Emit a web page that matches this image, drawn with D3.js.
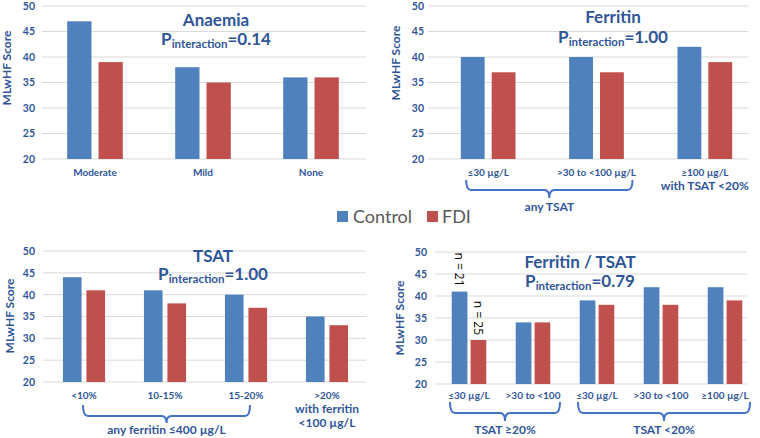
<!DOCTYPE html>
<html><head><meta charset="utf-8">
<script src="https://cdn.jsdelivr.net/npm/d3@7/dist/d3.min.js"></script>
<style>
body{margin:0;background:#fff;}
svg{font-family:Lato,"Open Sans",sans-serif;}
</style></head>
<body><svg id="c" width="760" height="438"></svg>
<script>
// ---- data ----
const seriesNames = ["Control", "FDI"];
const yTicks = [20, 25, 30, 35, 40, 45, 50];

const anaemiaCats = ["Moderate", "Mild", "None"];
const anaemiaControl = [47, 38, 36];
const anaemiaFDI = [39, 35, 36];

const ferritinCats = [["≤30 µg/L"], [">30 to <100 µg/L"], ["≥100 µg/L", "with TSAT <20%"]];
const ferritinControl = [40, 40, 42];
const ferritinFDI = [37, 37, 39];

const tsatCats = [["<10%"], ["10-15%"], ["15-20%"], [">20%", "with ferritin", "<100 µg/L"]];
const tsatControl = [44, 41, 40, 35];
const tsatFDI = [41, 38, 37, 33];

const ftCats = [["≤30 µg/L"], [">30 to <100"], ["≤30 µg/L"], [">30 to <100"], ["≥100 µg/L"]];
const ftControl = [41, 34, 39, 42, 42];
const ftFDI = [30, 34, 38, 38, 39];
const ftN = [["n = 21", "n = 25"]];

const BLUE = "#4F81BD", RED = "#C0504D", TXT = "#2F5597", BR = "#4472C4";
const svg = d3.select("#c");

function panel(o) {
  const g = svg.append("g");
  const y = d3.scaleLinear().domain([20, 50]).range([o.yBot, o.yTop]);
  const cats = o.cats.map((c, i) => i);
  const x = d3.scaleBand().domain(cats).range(o.xr).padding(0);
  g.selectAll(".grid").data(yTicks).join("line")
    .attr("x1", o.gx[0]).attr("x2", o.gx[1])
    .attr("y1", d => y(d)).attr("y2", d => y(d))
    .attr("stroke", "#d9d9d9").attr("stroke-width", 1);
  const ax = g.append("g").attr("transform", `translate(${o.gx[0]},0)`)
    .call(d3.axisLeft(y).tickValues(yTicks).tickSize(0).tickPadding(o.tickPad));
  ax.select(".domain").remove();
  ax.selectAll("text").attr("fill", TXT).attr("font-size", 10.5).attr("font-weight", "bold")
    .attr("font-family", "Lato");
  g.append("text").attr("transform", `translate(${o.ytx},${o.ytc}) rotate(-90)`)
    .attr("text-anchor", "middle").attr("dy", "0.35em").attr("fill", TXT)
    .attr("font-size", 12).attr("font-weight", "bold").text("MLwHF Score");
  const bw = x.bandwidth() * o.bwr, gap = x.bandwidth() * o.gapr;
  const sets = [o.c, o.f];
  const cols = [BLUE, RED];
  sets.forEach((vals, s) => {
    g.selectAll(".b" + s).data(vals).join("rect")
      .attr("x", (d, i) => x(i) + x.bandwidth() / 2 + (s === 0 ? -gap / 2 - bw : gap / 2))
      .attr("width", bw)
      .attr("y", d => y(d)).attr("height", d => y(20) - y(d))
      .attr("fill", cols[s]);
  });
  o.cats.forEach((lines, i) => {
    const L = Array.isArray(lines) ? lines : [lines];
    L.forEach((t, k) => {
      g.append("text").attr("x", x(i) + x.bandwidth() / 2)
        .attr("y", o.catY + k * o.lineH)
        .attr("text-anchor", "middle").attr("fill", TXT)
        .attr("font-size", k === 0 ? 10 : 12).attr("font-weight", "bold").text(t);
    });
  });
  g.append("text").attr("x", o.tx).attr("y", o.ty).attr("text-anchor", "middle")
    .attr("fill", TXT).attr("font-size", 17).attr("font-weight", "bold").text(o.title);
  const pt = g.append("text").attr("x", o.tx).attr("y", o.ty + o.pdy).attr("text-anchor", "middle")
    .attr("fill", TXT).attr("font-weight", "bold").attr("font-size", 17);
  pt.append("tspan").text("P");
  pt.append("tspan").attr("font-size", 11.5).attr("dy", 3).text("interaction");
  pt.append("tspan").attr("dy", -3).text("=" + o.p);
  (o.brackets || []).forEach(b => {
    const x1 = x(b.from) + x.bandwidth() / 2 + b.p1;
    const x2 = x(b.to) + x.bandwidth() / 2 + b.p2;
    const m = (x1 + x2) / 2, t = b.top, bt = b.bot, tip = b.tip, r = 5;
    const p = `M${x1},${t} Q${x1},${bt} ${x1 + r},${bt} L${m - r},${bt} Q${m},${bt} ${m},${tip} Q${m},${bt} ${m + r},${bt} L${x2 - r},${bt} Q${x2},${bt} ${x2},${t}`;
    g.append("path").attr("d", p).attr("fill", "none").attr("stroke", BR).attr("stroke-width", 2);
    g.append("text").attr("x", m).attr("y", b.ly).attr("text-anchor", "middle")
      .attr("fill", TXT).attr("font-size", 12).attr("font-weight", "bold").text(b.label);
  });
  return {x, y, bw, gap};
}

panel({cats: anaemiaCats, c: anaemiaControl, f: anaemiaFDI, xr: [41, 365], gx: [42, 366],
  yTop: 6, yBot: 159, tickPad: 7, ytx: 7, ytc: 68, bwr: 0.225, gapr: 0.065, catY: 176, lineH: 14,
  title: "Anaemia", tx: 216, ty: 26, pdy: 19, p: "0.14"});

panel({cats: ferritinCats, c: ferritinControl, f: ferritinFDI, xr: [434, 759], gx: [428, 748],
  yTop: 6, yBot: 159, tickPad: 4, ytx: 396, ytc: 63, bwr: 0.22, gapr: 0.065, catY: 176, lineH: 14,
  title: "Ferritin", tx: 613, ty: 23, pdy: 20, p: "1.00",
  brackets: [{from: 0, to: 1, p1: -22, p2: 36, top: 180, bot: 190, tip: 198, ly: 211, label: "any TSAT"}]});

panel({cats: tsatCats, c: tsatControl, f: tsatFDI, xr: [43.5, 367.5], gx: [43, 366],
  yTop: 251, yBot: 382, tickPad: 8, ytx: 10, ytc: 316, bwr: 0.23, gapr: 0.06, catY: 399, lineH: 14,
  title: "TSAT", tx: 213, ty: 262, pdy: 18, p: "1.00",
  brackets: [{from: 0, to: 2, p1: -1, p2: 4, top: 405, bot: 416, tip: 423, ly: 434, label: "any ferritin ≤400 µg/L"}]});

const p4 = panel({cats: ftCats, c: ftControl, f: ftFDI, xr: [437, 757], gx: [435, 747],
  yTop: 252, yBot: 384, tickPad: 8, ytx: 400, ytc: 318, bwr: 0.245, gapr: 0.05, catY: 399, lineH: 14,
  title: "Ferritin / TSAT", tx: 580, ty: 268, pdy: 19, p: "0.79",
  brackets: [{from: 0, to: 1, p1: -19, p2: 27, top: 402, bot: 413, tip: 421, ly: 434, label: "TSAT ≥20%"},
             {from: 2, to: 4, p1: -19, p2: 25, top: 402, bot: 413, tip: 421, ly: 434, label: "TSAT <20%"}]});

ftN[0].forEach((t, s) => {
  const cx = p4.x(0) + p4.x.bandwidth() / 2 + (s === 0 ? -p4.gap / 2 - p4.bw / 2 : p4.gap / 2 + p4.bw / 2);
  const top = p4.y(s === 0 ? ftControl[0] : ftFDI[0]);
  svg.append("text").attr("transform", `translate(${cx},${top - 5}) rotate(90)`)
    .attr("text-anchor", "end").attr("dy", "0.35em").attr("fill", "#000")
    .attr("font-size", 12).attr("font-family", "Open Sans").text(t);
});

const leg = svg.append("g");
const legX = [337, 427], legTx = [353, 442];
seriesNames.forEach((n, i) => {
  leg.append("rect").attr("x", legX[i]).attr("y", 211).attr("width", 11).attr("height", 11)
    .attr("fill", i === 0 ? BLUE : RED);
  leg.append("text").attr("x", legTx[i]).attr("y", 223).attr("fill", "#595959")
    .attr("font-size", 18).text(n);
});
</script></body></html>
